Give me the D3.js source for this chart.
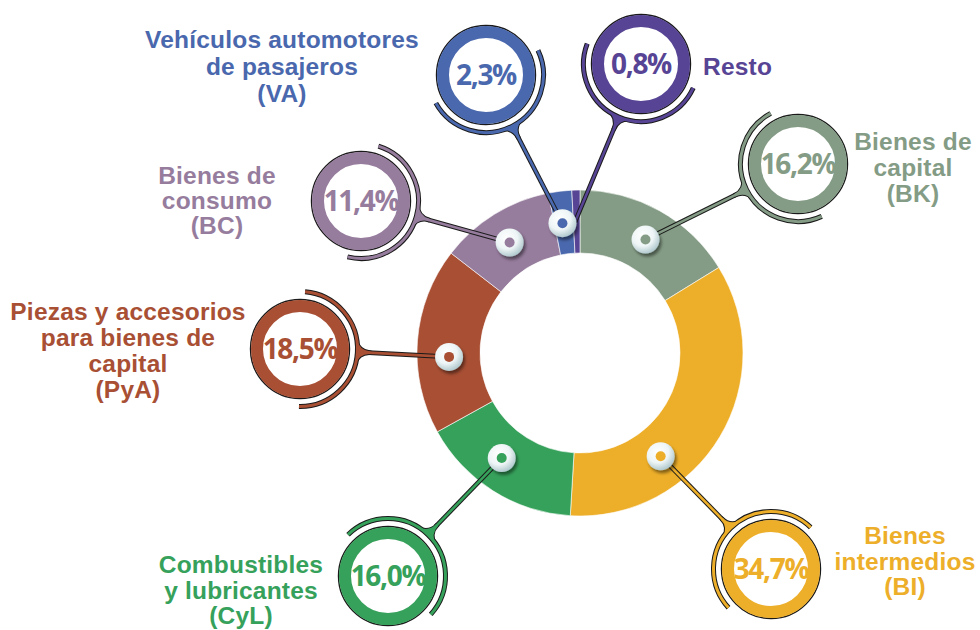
<!DOCTYPE html>
<html>
<head>
<meta charset="utf-8">
<script src="https://cdn.jsdelivr.net/npm/d3@7"></script>
<style>
  body { margin: 0; background: #fff; }
  .lbl { font-family: "Liberation Sans", Arial, sans-serif; font-weight: bold; font-size: 24.5px; letter-spacing: 0.2px; }
  .pct { font-family: "Open Sans", sans-serif; font-weight: 700; font-size: 28px; letter-spacing: -1.3px; }
</style>
</head>
<body>
<svg id="chart" width="980" height="630"></svg>
<script>
// data
var categories = ["BK", "BI", "CyL", "PyA", "BC", "VA", "Resto"];
var shares = [16.2, 34.7, 16.0, 18.5, 11.4, 2.3, 0.8];
var labelLines = [
  ["Bienes de", "capital", "(BK)"],
  ["Bienes", "intermedios", "(BI)"],
  ["Combustibles", "y lubricantes", "(CyL)"],
  ["Piezas y accesorios", "para bienes de", "capital", "(PyA)"],
  ["Bienes de", "consumo", "(BC)"],
  ["Vehículos automotores", "de pasajeros", "(VA)"],
  ["Resto"]
];
var colors = ["#849c85", "#edae29", "#36a15b", "#a84f34", "#967c9d", "#4a68ad", "#574494"];

// where bubbles, knobs and labels sit (knob angle in degrees, clockwise from top)
var layout = [
  {cx: 798, cy: 164, knob: 30,    lx: 913, ly: 150, lh: 26},
  {cx: 771, cy: 569, knob: 142,   lx: 905, ly: 544, lh: 25.5},
  {cx: 388, cy: 576, knob: 216.7, lx: 241, ly: 573, lh: 25.5},
  {cx: 300, cy: 349, knob: 268.3, lx: 128, ly: 320, lh: 26},
  {cx: 361, cy: 201, knob: 327.5, lx: 217, ly: 184, lh: 25},
  {cx: 486, cy: 75,  knob: 352.3, lx: 282, ly: 48,  lh: 27},
  {cx: 641, cy: 64,  knob: 357.8, lx: 703, ly: 75,  lh: 27, start: true, noKnob: true}
];

var svg = d3.select("#chart"),
    cx = 580, cy = 353,
    outerR = 163, innerR = 100, knobR = 131,
    bubbleR = 50, ringW = 12, hookR = 57.5;

var fmt = d3.formatLocale({decimal: ",", thousands: ".", grouping: [3], currency: ["", ""]}).format(".1f");

var defs = svg.append("defs");
var grad = defs.append("radialGradient").attr("id", "knobGrad")
    .attr("cx", "40%").attr("cy", "35%").attr("r", "70%");
grad.append("stop").attr("offset", "0%").attr("stop-color", "#ffffff");
grad.append("stop").attr("offset", "55%").attr("stop-color", "#eef5f6");
grad.append("stop").attr("offset", "100%").attr("stop-color", "#a8c3c8");
defs.append("filter").attr("id", "shadow")
    .attr("x", "-50%").attr("y", "-50%").attr("width", "200%").attr("height", "200%")
  .append("feDropShadow")
    .attr("dx", 2).attr("dy", 3).attr("stdDeviation", 1.5)
    .attr("flood-color", "#000").attr("flood-opacity", 0.45);

// donut
var pie = d3.pie().sort(null).value(d => d);
var arc = d3.arc().innerRadius(innerR).outerRadius(outerR);

svg.append("g")
    .attr("transform", "translate(" + cx + "," + cy + ")")
  .selectAll("path")
  .data(pie(shares))
  .enter().append("path")
    .attr("d", arc)
    .attr("fill", (d, i) => colors[i])
    .attr("stroke", "#fff")
    .attr("stroke-width", 0.6);

function knobPoint(deg) {
  var a = deg * Math.PI / 180;
  return [cx + knobR * Math.sin(a), cy - knobR * Math.cos(a)];
}

// geometry of one callout: hook arc + flare + stem
function calloutParts(l) {
  var k = knobPoint(l.knob);
  var dx = k[0] - l.cx, dy = k[1] - l.cy;
  var len = Math.sqrt(dx * dx + dy * dy);
  var ux = dx / len, uy = dy / len, nx = -uy, ny = ux;
  var th = Math.atan2(dy, dx);
  var span = 88 * Math.PI / 180, fl = 13 * Math.PI / 180;
  function p(r, a) { return [l.cx + r * Math.cos(a), l.cy + r * Math.sin(a)]; }
  var h1 = p(hookR, th - span), h2 = p(hookR, th + span);
  var hook = "M" + h1 + "A" + hookR + "," + hookR + " 0 0 1 " + h2;
  var a1 = p(hookR, th - fl), a2 = p(hookR, th + fl);
  var sd = hookR + 13, w = 1.3;
  var s1 = [l.cx + sd * ux - w * nx, l.cy + sd * uy - w * ny],
      s2 = [l.cx + sd * ux + w * nx, l.cy + sd * uy + w * ny],
      c1 = [l.cx + (hookR + 2) * ux - w * nx, l.cy + (hookR + 2) * uy - w * ny],
      c2 = [l.cx + (hookR + 2) * ux + w * nx, l.cy + (hookR + 2) * uy + w * ny];
  var flare = "M" + a1 + "Q" + c1 + " " + s1 + "L" + s2 + "Q" + c2 + " " + a2 +
      "A" + hookR + "," + hookR + " 0 0 0 " + a1 + "Z";
  var stem = "M" + [l.cx + (sd - 2) * ux, l.cy + (sd - 2) * uy] + "L" + k;
  return {hook: hook, flare: flare, stem: stem, knob: k};
}

var parts = layout.map(calloutParts);

// outline layer then colour layer so the tube looks joined
var tubes = svg.append("g");
parts.forEach((pt, i) => {
  var g = tubes.append("g");
  g.append("path").attr("d", pt.stem).attr("stroke", "#1a1a1a").attr("stroke-width", 4.6).attr("fill", "none");
  g.append("path").attr("d", pt.hook).attr("stroke", "#1a1a1a").attr("stroke-width", 5).attr("fill", "none");
  g.append("path").attr("d", pt.flare).attr("fill", "#1a1a1a").attr("stroke", "#1a1a1a").attr("stroke-width", 2);
  g.append("path").attr("d", pt.stem).attr("stroke", colors[i]).attr("stroke-width", 2.6).attr("fill", "none");
  g.append("path").attr("d", pt.hook).attr("stroke", colors[i]).attr("stroke-width", 3).attr("fill", "none");
  g.append("path").attr("d", pt.flare).attr("fill", colors[i]);
});

// knobs on the ring
var knobs = svg.append("g").selectAll("g")
  .data(parts.filter((d, i) => !layout[i].noKnob).map((d, i) => ({k: d.knob, c: colors[i]})))
  .enter().append("g")
    .attr("transform", d => "translate(" + d.k + ")");
knobs.append("circle").attr("r", 14).attr("fill", "url(#knobGrad)").attr("filter", "url(#shadow)");
knobs.append("circle").attr("r", 5).attr("fill", d => d.c);

// bubbles with the percentages
var bubbles = svg.append("g").selectAll("g")
  .data(layout)
  .enter().append("g")
    .attr("transform", d => "translate(" + d.cx + "," + d.cy + ")");
bubbles.append("circle").attr("r", bubbleR - 0.5).attr("fill", "none").attr("stroke", "#1a1a1a").attr("stroke-width", 1.4);
bubbles.append("circle").attr("r", bubbleR - 1 - ringW / 2).attr("fill", "#fff")
    .attr("stroke", (d, i) => colors[i]).attr("stroke-width", ringW);
bubbles.append("text")
    .attr("class", "pct")
    .attr("text-anchor", "middle")
    .attr("dy", "0.36em")
    .attr("fill", (d, i) => colors[i])
    .text((d, i) => fmt(shares[i]) + "%");

// category labels
layout.forEach((l, i) => {
  var t = svg.append("text")
      .attr("class", "lbl")
      .attr("fill", colors[i])
      .attr("text-anchor", l.start ? "start" : "middle");
  labelLines[i].forEach((line, j) => {
    t.append("tspan").attr("x", l.lx).attr("y", l.ly + j * l.lh).text(line);
  });
});
</script>
</body>
</html>
